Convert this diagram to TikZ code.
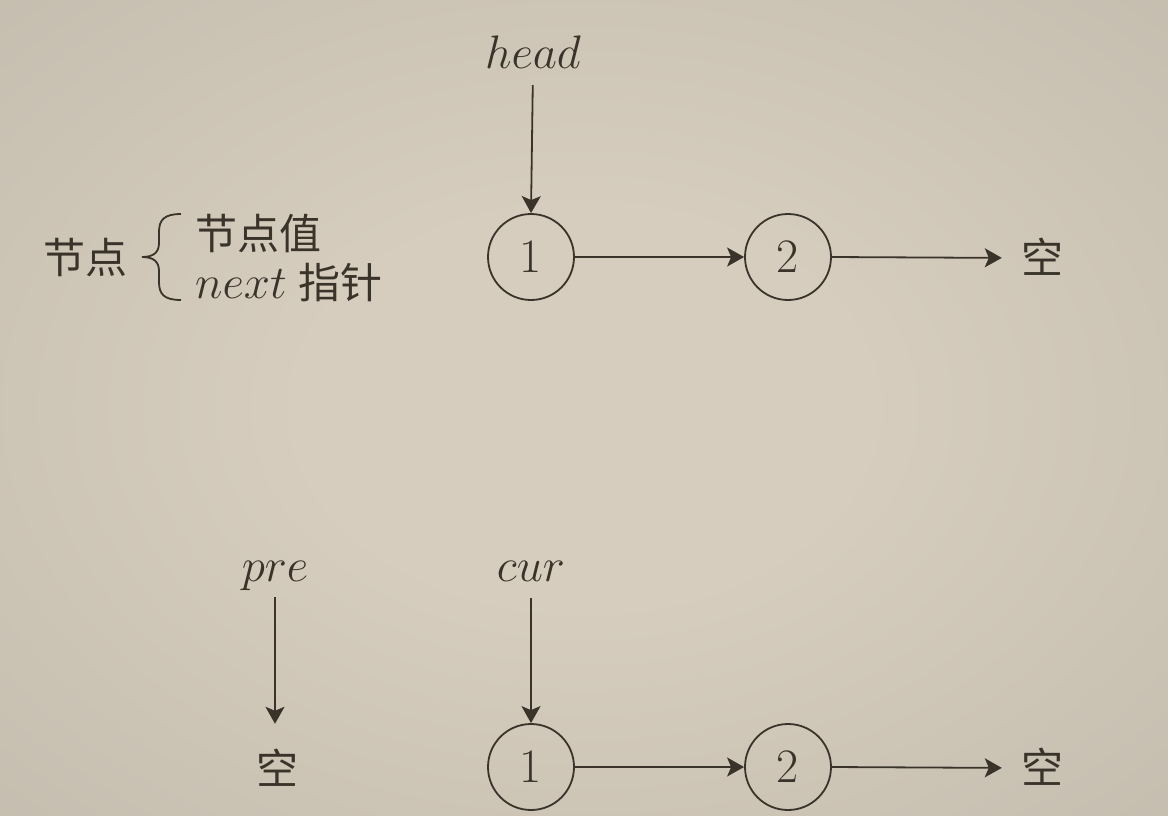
\RequirePackage{fix-cm}
\documentclass[tikz,border=0pt]{standalone}
\usepackage{fontspec}
\newfontfamily\cjk{Noto Sans CJK SC}
\usetikzlibrary{arrows.meta}
\definecolor{ink}{RGB}{58,51,42}
\definecolor{bgin}{RGB}{214,205,190}
\definecolor{bgout}{RGB}{187,180,166}
\pgfdeclareradialshading{bgshade}{\pgfpoint{0bp}{0bp}}{color(0bp)=(bgin); color(12bp)=(bgin); color(50bp)=(bgout)}
\begin{document}
\begin{tikzpicture}[x=1pt,y=-1pt,
  every node/.style={text=ink, inner sep=0pt},
  lnode/.style={circle, draw=ink, line width=1.8pt, minimum size=86pt, font=\fontsize{48}{56}\selectfont},
  lbl/.style={font=\fontsize{47}{56}\selectfont, anchor=base, text depth=0pt},
  zh/.style={font=\fontsize{42}{50}\selectfont\cjk, text height=33pt, text depth=3pt},
  arr/.style={draw=ink, line width=1.8pt, -{Stealth[length=17pt,width=19pt,inset=4pt]}},
  brace/.style={draw=ink, line width=1.8pt},
]
\shade[shading=bgshade] (0,0) rectangle (1168,815);
\useasboundingbox (0,0) rectangle (1168,815);

% top row
\node[lnode] (a1) at (531,257) {1};
\node[lnode] (a2) at (788,257) {2};
\node[zh] (anull) at (1042,258) {空};
\node[lbl] (head) at (533,68) {$head$};
\draw[arr, shorten <=17pt] (head.south) -- (a1.north);
\draw[arr] (a1) -- (a2);
\draw[arr, shorten >=19pt] (a2.east) -- (anull.west);

% legend
\node[zh] (jd) at (85,258) {节点};
\node[zh, anchor=west] (val) at (195,234) {节点值};
\node[anchor=base west] (nextp) at (195,298) {\fontsize{47}{56}\selectfont$next$\hspace{12pt}\fontsize{42}{50}\selectfont\cjk 指针};
\draw[brace] (181,214) .. controls (164,214) and (159,220) .. (159,232) -- (159,243)
  .. controls (159,252) and (154,257) .. (142,257)
  .. controls (154,257) and (159,262) .. (159,271) -- (159,282)
  .. controls (159,294) and (164,300) .. (181,300);

% bottom row
\node[lnode] (b1) at (531,767) {1};
\node[lnode] (b2) at (788,767) {2};
\node[zh] (bnull) at (1042,768) {空};
\node[zh] (pnull) at (277,769) {空};
\node[lbl] (pre) at (275,581) {$pre$};
\node[lbl] (cur) at (531,581) {$cur$};
\draw[arr, shorten <=16pt, shorten >=27pt] (pre.south) -- (pre.south |- pnull.north);
\draw[arr, shorten <=17pt] (cur.south) -- (b1.north);
\draw[arr] (b1) -- (b2);
\draw[arr, shorten >=19pt] (b2.east) -- (bnull.west);
\end{tikzpicture}
\end{document}
